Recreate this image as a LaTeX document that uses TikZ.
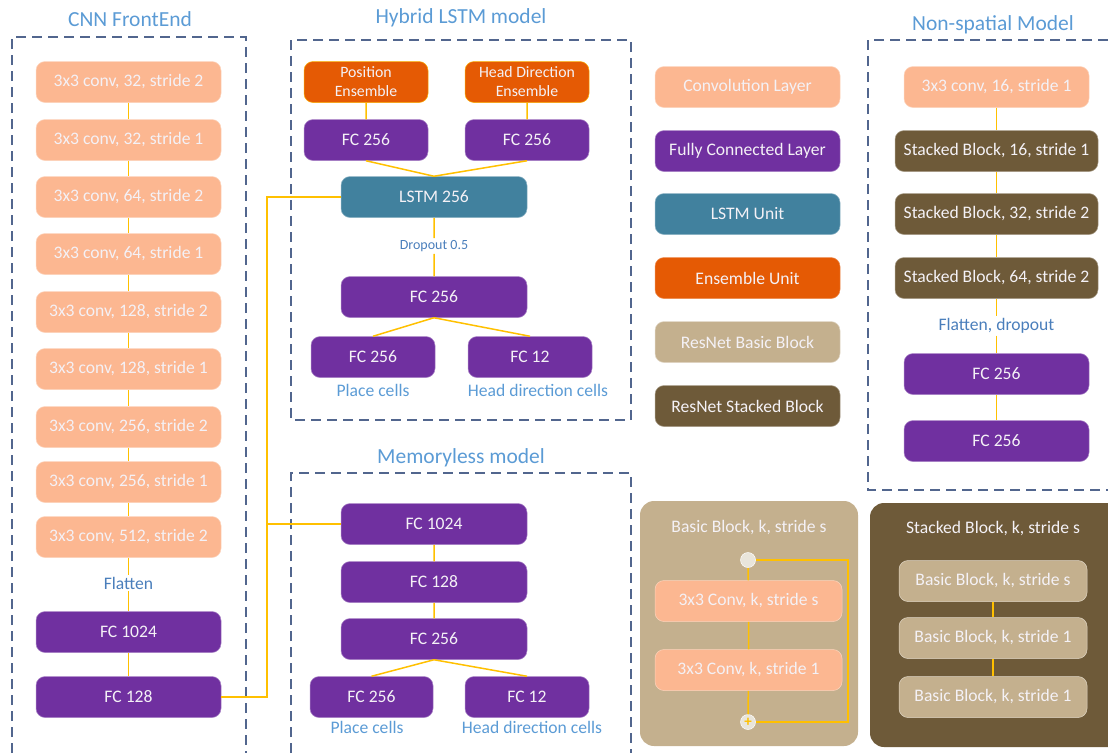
\documentclass[tikz,border=0pt]{standalone}
\usepackage{fontspec}
\setmainfont{Carlito}
\definecolor{convc}{HTML}{FCB791}
\definecolor{fcc}{HTML}{7030A0}
\definecolor{lstmc}{HTML}{41819E}
\definecolor{ensc}{HTML}{E55A04}
\definecolor{basicc}{HTML}{C4B08E}
\definecolor{stackc}{HTML}{6E5A39}
\definecolor{linkc}{HTML}{FFC000}
\definecolor{dashc}{HTML}{52668E}
\definecolor{titlec}{HTML}{5B9BD5}
\definecolor{labelc}{HTML}{4A7EBB}
\definecolor{boxtext}{HTML}{F4F1F6}
\definecolor{circc}{HTML}{E9E5DB}
\begin{document}
\begin{tikzpicture}[x=1pt,y=-1pt,
  box/.style={rounded corners=9pt, minimum height=41pt, inner sep=0pt, text=boxtext,
     font=\fontsize{17.6}{19}\selectfont, align=center, draw=white, line width=0.5pt},
  convbox/.style={box, fill=convc, draw=convc!60!white},
  fcbox/.style={box, fill=fcc, draw=fcc!60!white},
  lstmbox/.style={box, fill=lstmc, draw=lstmc!60!white},
  ensbox/.style={box, fill=ensc, draw=linkc!80!ensc, font=\fontsize{15.8}{19}\selectfont},
  basicbox/.style={box, fill=basicc, draw=basicc!50!white},
  stackbox/.style={box, fill=stackc, draw=stackc!60!white},
  framebox/.style={draw=dashc, line width=1.2pt, dash pattern=on 10pt off 6pt},
  ttl/.style={text=titlec, font=\fontsize{21.5}{23}\selectfont},
  lbl/.style={text=labelc, font=\fontsize{17.6}{19}\selectfont, inner sep=2pt},
  celltxt/.style={text=titlec, font=\fontsize{17.6}{19}\selectfont, inner sep=1pt},
  link/.style={draw=linkc, line width=1.5pt},
  dotnode/.style={circle, fill=circc, draw=white, line width=0.5pt, minimum size=15pt, inner sep=0pt}
]
\useasboundingbox (0,0) rectangle (1108,753);

% ---------- frames ----------
\draw[framebox] (12,753) -- (12,37) -- (246,37) -- (246,753);
\draw[framebox] (291,40) rectangle (631,420);
\draw[framebox] (291,753) -- (291,473) -- (631,473) -- (631,753);
\draw[framebox] (1108,40) -- (868,40) -- (868,490) -- (1108,490);

\node[ttl] (tcnn) at (130,19) {CNN FrontEnd};
\node[ttl] (thyb) at (461,18) {Hybrid LSTM model};
\node[ttl] (tmem) at (461,458) {Memoryless model};
\node[ttl] (tnon) at (993,25) {Non-spatial Model};

% ---------- CNN FrontEnd ----------
\begin{scope}[every node/.append style={minimum width=185pt}]
\node[convbox] (c1) at (128.5,82) {3x3 conv, 32, stride 2};
\node[convbox] (c2) at (128.5,140) {3x3 conv, 32, stride 1};
\node[convbox] (c3) at (128.5,197) {3x3 conv, 64, stride 2};
\node[convbox] (c4) at (128.5,254) {3x3 conv, 64, stride 1};
\node[convbox] (c5) at (128.5,312) {3x3 conv, 128, stride 2};
\node[convbox] (c6) at (128.5,369) {3x3 conv, 128, stride 1};
\node[convbox] (c7) at (128.5,427) {3x3 conv, 256, stride 2};
\node[convbox] (c8) at (128.5,482) {3x3 conv, 256, stride 1};
\node[convbox] (c9) at (128.5,537) {3x3 conv, 512, stride 2};
\node[fcbox] (cf1) at (128.5,632) {FC 1024};
\node[fcbox] (cf2) at (128.5,697) {FC 128};
\end{scope}
\node[lbl] (flat) at (128.5,583) {Flatten};
\draw[link] (c1) -- (c2) (c2) -- (c3) (c3) -- (c4) (c4) -- (c5) (c5) -- (c6)
  (c6) -- (c7) (c7) -- (c8) (c8) -- (c9) (c9) -- (flat) (flat) -- (cf1) (cf1) -- (cf2);

% ---------- Hybrid LSTM ----------
\node[ensbox, minimum width=124pt] (pe) at (366,82) {Position\\Ensemble};
\node[ensbox, minimum width=124pt] (he) at (527,82) {Head Direction\\Ensemble};
\node[fcbox, minimum width=124pt] (pf) at (366,140) {FC 256};
\node[fcbox, minimum width=124pt] (hf) at (527,140) {FC 256};
\node[lstmbox, minimum width=186pt] (lstm) at (434,197) {LSTM 256};
\node[lbl, font=\fontsize{14}{15}\selectfont] (drop) at (434,246) {Dropout 0.5};
\node[fcbox, minimum width=186pt] (hfc) at (434,297) {FC 256};
\node[fcbox, minimum width=124pt] (hpl) at (373,357) {FC 256};
\node[fcbox, minimum width=124pt] (hhd) at (530,357) {FC 12};
\node[celltxt] (hplt) at (373,390) {Place cells};
\node[celltxt] (hhdt) at (538,390) {Head direction cells};
\draw[link] (pe) -- (pf) (he) -- (hf)
  (pf.south) -- (lstm.north) (hf.south) -- (lstm.north)
  (lstm) -- (drop) (drop) -- (hfc)
  (hfc.south) -- (hpl.north) (hfc.south) -- (hhd.north);

% ---------- Memoryless ----------
\node[fcbox, minimum width=186pt] (m1) at (434,524) {FC 1024};
\node[fcbox, minimum width=186pt] (m2) at (434,582) {FC 128};
\node[fcbox, minimum width=186pt] (m3) at (434,639) {FC 256};
\node[fcbox, minimum width=123pt] (mpl) at (371.5,697) {FC 256};
\node[fcbox, minimum width=124pt] (mhd) at (527,697) {FC 12};
\node[celltxt] (mplt) at (367,727) {Place cells};
\node[celltxt] (mhdt) at (532,727) {Head direction cells};
\draw[link] (m1) -- (m2) (m2) -- (m3) (m3.south) -- (mpl.north) (m3.south) -- (mhd.north);

% ---------- connection CNN -> models ----------
\coordinate (bus) at (267,697);
\draw[link] (cf2.east) -- (bus) |- (lstm.west);
\draw[link] (bus) |- (m1.west);

% ---------- Legend ----------
\begin{scope}[every node/.append style={minimum width=185pt}]
\node[convbox] (l1) at (747.5,87) {Convolution Layer};
\node[fcbox] (l2) at (747.5,151) {Fully Connected Layer};
\node[lstmbox] (l3) at (747.5,214) {LSTM Unit};
\node[ensbox, draw=ensc!70!white, font=\fontsize{17.6}{19}\selectfont] (l4) at (747.5,278) {Ensemble Unit};
\node[basicbox] (l5) at (747.5,342) {ResNet Basic Block};
\node[stackbox] (l6) at (747.5,406) {ResNet Stacked Block};
\end{scope}

% ---------- Non-spatial ----------
\node[convbox, minimum width=185pt] (n1) at (996.5,87) {3x3 conv, 16, stride 1};
\node[stackbox, minimum width=203pt] (n2) at (996.5,151) {Stacked Block, 16, stride 1};
\node[stackbox, minimum width=203pt] (n3) at (996.5,214) {Stacked Block, 32, stride 2};
\node[stackbox, minimum width=203pt] (n4) at (996.5,278) {Stacked Block, 64, stride 2};
\node[lbl] (nflat) at (996.5,326) {Flatten, dropout};
\node[fcbox, minimum width=185pt] (n5) at (996.5,374) {FC 256};
\node[fcbox, minimum width=185pt] (n6) at (996.5,441) {FC 256};
\draw[link] (n1) -- (n2) (n2) -- (n3) (n3) -- (n4) (n4) -- (nflat) (nflat) -- (n5) (n5) -- (n6);

% ---------- Basic block panel ----------
\fill[basicc, rounded corners=14pt] (640,501) rectangle (858,746);
\node[text=boxtext, font=\fontsize{17.6}{19}\selectfont] (bbt) at (749,528) {Basic Block, k, stride s};
\node[dotnode] (btop) at (748,560) {};
\node[convbox, minimum width=187pt] (bc1) at (748.5,601) {3x3 Conv, k, stride s};
\node[convbox, minimum width=187pt] (bc2) at (748.5,670) {3x3 Conv, k, stride 1};
\node[dotnode, text=linkc, font=\bfseries\fontsize{15}{15}\selectfont] (bbot) at (748,722) {+};
\coordinate (skip) at (848,560);
\draw[link] (btop) -- (bc1) (bc1) -- (bc2) (bc2) -- (bbot);
\draw[link] (btop.east) -- (skip) |- (bbot.east);

% ---------- Stacked block panel ----------
\fill[stackc, rounded corners=14pt] (870,503) rectangle (1125,747);
\node[text=boxtext, font=\fontsize{17.6}{19}\selectfont] (sbt) at (993,529) {Stacked Block, k, stride s};
\node[basicbox, minimum width=188pt] (s1) at (993,581) {Basic Block, k, stride s};
\node[basicbox, minimum width=188pt] (s2) at (993,638) {Basic Block, k, stride 1};
\node[basicbox, minimum width=188pt] (s3) at (993,697) {Basic Block, k, stride 1};
\draw[link] (s1) -- (s2) (s2) -- (s3);
\end{tikzpicture}
\end{document}
